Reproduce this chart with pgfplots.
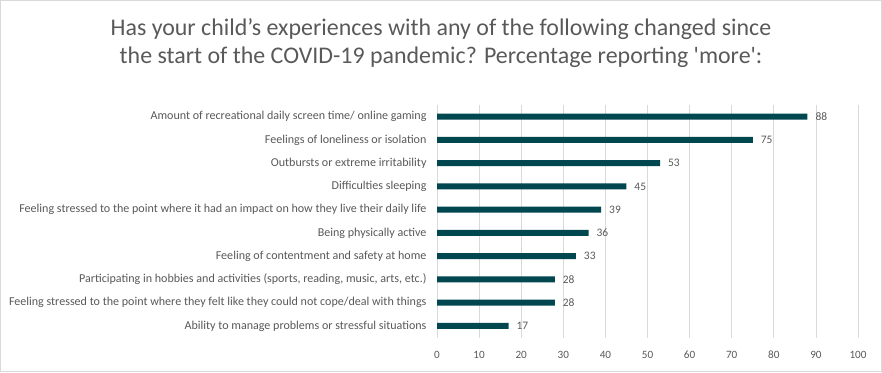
\documentclass[border=0pt]{standalone}
\usepackage{pgfplots}
\pgfplotsset{compat=1.18}
\usepackage{fontspec}
\setmainfont{Carlito}
\definecolor{barc}{HTML}{004750}
\definecolor{txt}{HTML}{595959}
\definecolor{gridc}{HTML}{D9D9D9}
\begin{document}
\begin{tikzpicture}[x=1bp,y=1bp]
\draw[gridc, line width=0.75bp] (0.5,0.5) rectangle (881.5,371.5);
\node[txt, font=\fontsize{24}{28}\selectfont, anchor=base, inner sep=0] at (441,337) {Has your child’s experiences with any of the following changed since};
\node[txt, font=\fontsize{24}{28}\selectfont, anchor=base, inner sep=0] at (441,309) {the start of the COVID-19 pandemic? Percentage reporting \textquotesingle more\textquotesingle:};
\begin{axis}[
  at={(437bp,34.4bp)}, anchor=south west,
  scale only axis, width=421bp, height=232.6bp,
  xbar, bar width=6bp,
  xmin=0, xmax=100, ymin=-0.5, ymax=9.5,
  y dir=reverse,
  ytick={0,...,9},
  yticklabels={
    Amount of recreational daily screen time/ online gaming,
    Feelings of loneliness or isolation,
    Outbursts or extreme irritability,
    Difficulties sleeping,
    Feeling stressed to the point where it had an impact on how they live their daily life,
    Being physically active,
    Feeling of contentment and safety at home,
    {Participating in hobbies and activities (sports, reading, music, arts, etc.)},
    Feeling stressed to the point where they felt like they could not cope/deal with things,
    Ability to manage problems or stressful situations},
  xtick={0,10,...,100},
  xmajorgrids, grid style={gridc, line width=0.75bp},
  major tick length=0,
  axis line style={draw=none},
  xticklabel style={txt, font=\fontsize{11.2}{13}\selectfont, yshift=-10bp},
  yticklabel style={txt, font=\fontsize{12.1}{14}\selectfont, xshift=-7bp},
  /pgf/number format/assume math mode=true,
  nodes near coords,
  nodes near coords style={txt, font=\fontsize{11.5}{13}\selectfont, xshift=4.5bp},
  clip=false,
]
\addplot[fill=barc, draw=none] coordinates {
  (88,0) (75,1) (53,2) (45,3) (39,4) (36,5) (33,6) (28,7) (28,8) (17,9)};
\end{axis}
\pgfresetboundingbox
\path (0,0) rectangle (882,372);
\end{tikzpicture}
\end{document}
